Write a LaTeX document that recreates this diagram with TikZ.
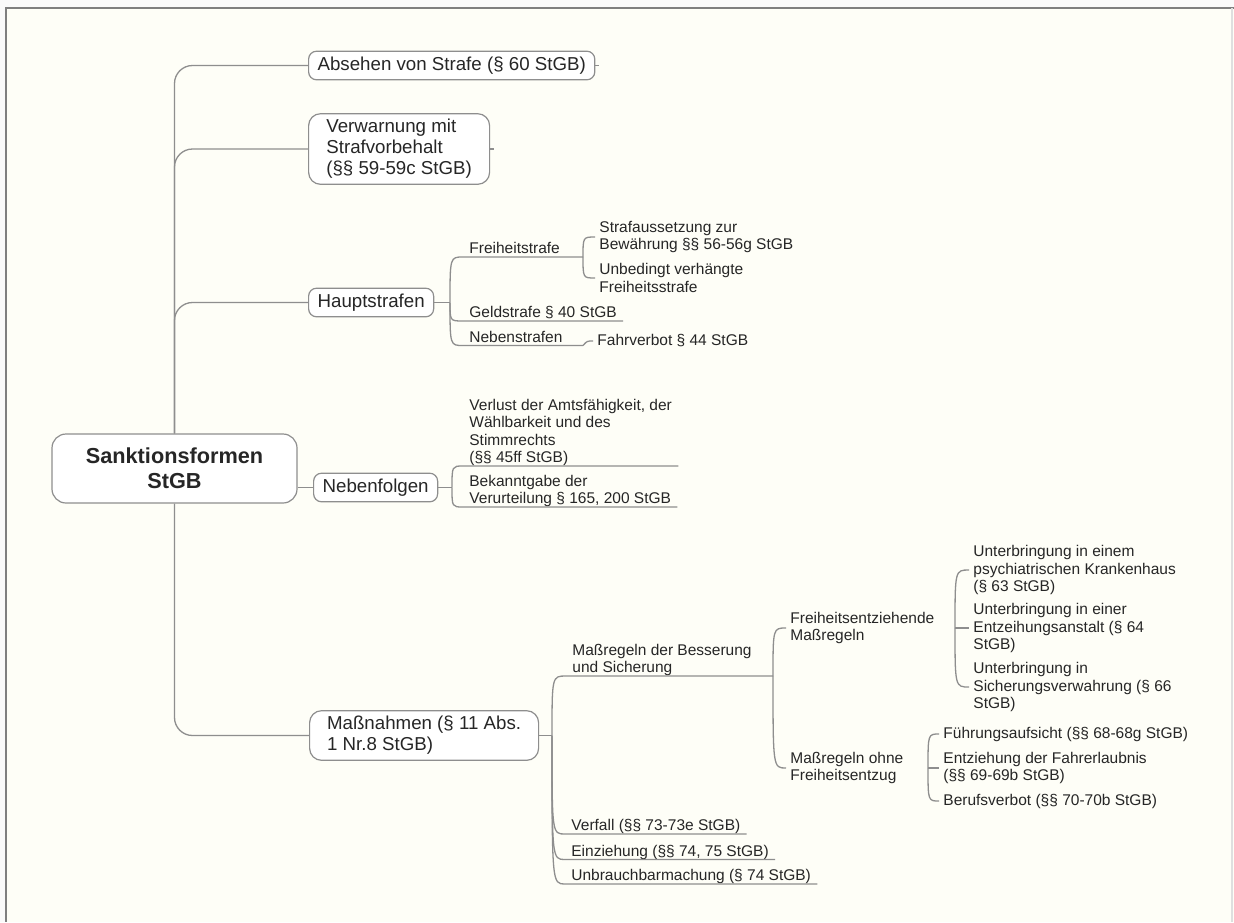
\documentclass[tikz,border=0pt]{standalone}
\usepackage{fontspec}
\setmainfont{Liberation Sans}
\definecolor{paper}{HTML}{FEFEF7}
\definecolor{framegray}{HTML}{7F7F7F}
\definecolor{linegray}{HTML}{8E8E8E}
\definecolor{ink}{HTML}{262626}
\newcommand{\rootfont}{\fontsize{10.85}{12.5}\selectfont\bfseries}
\newcommand{\topicfont}{\fontsize{9.35}{10.5}\selectfont}
\newcommand{\subtopicfont}{\fontsize{7.75}{8.75}\selectfont}
\begin{document}
\begin{tikzpicture}[x=0.5pt,y=-0.5pt,line join=round,
    conn/.style={draw=linegray,line width=0.65pt},
    rootbox/.style={draw=linegray,fill=white,line width=0.6pt,rounded corners=7pt,
      font=\rootfont,text=ink,align=center,minimum width=122.5pt,minimum height=34.5pt},
    topic/.style={draw=linegray,fill=white,line width=0.6pt,rounded corners=4pt,
      font=\topicfont,text=ink,align=left,anchor=west,inner xsep=4.5pt,inner ysep=2.8pt},
    sub/.style={font=\subtopicfont,text=ink,align=left,anchor=south west,
      inner xsep=3pt,inner ysep=1.5pt,text depth=0pt},
    leaf/.style={font=\subtopicfont,text=ink,align=left,anchor=west,
      inner xsep=2pt,inner ysep=0pt}]
  \useasboundingbox (0,0) rectangle (1234,922);
  % page and frame
  \fill [gray!4] (0,0) rectangle (1234,922);
  \fill [paper] (6,8) rectangle (1234,922);
  \draw [framegray,line width=1pt] (5,8) -- (1234,8);
  \draw [framegray,line width=1pt] (6,8) -- (6,922);
  \draw [gray!25,line width=0.6pt] (1232,8) -- (1232,922);

  % central topic and main topics
  \node [rootbox] (root) at (174.5,468.5) {Sanktionsformen\\StGB};
  \node [topic] (absehen) at (308,65.5) {Absehen von Strafe (§ 60 StGB)};
  \node [topic,rounded corners=6pt,minimum width=90.5pt] (verwarn) at (308,149) {Verwarnung mit\\Strafvorbehalt\\(§§ 59-59c StGB)};
  \node [topic] (haupt) at (308,302.5) {Hauptstrafen};
  \node [topic] (nebenf) at (313,487.5) {Nebenfolgen};
  \node [topic,rounded corners=6pt,minimum width=114.5pt] (massn) at (309,735.5) {Maßnahmen (§ 11 Abs.\\1 Nr.8 StGB)};

  \draw [conn,rounded corners=9pt] (root.north) |- (absehen.west);
  \draw [conn,rounded corners=9pt] (root.north) |- (verwarn.west);
  \draw [conn,rounded corners=9pt] (root.north) |- (haupt.west);
  \draw [conn] (root.east |- nebenf.west) -- (nebenf.west);
  \draw [conn,rounded corners=9pt] (root.south) |- (massn.west);
  \draw [conn] (absehen.east) -- ++(4,0);
  \draw [conn] (verwarn.east) -- ++(4,0);

  % Hauptstrafen
  \node [sub] (freiheit) at (463,257) {Freiheitstrafe};
  \node [sub] (geld) at (463,321) {Geldstrafe § 40 StGB};
  \node [sub] (neben) at (463,345.5) {Nebenstrafen};
  \node [leaf] (straf1) at (595,237) {Strafaussetzung zur\\Bewährung §§ 56-56g StGB};
  \node [leaf] (straf2) at (595,278) {Unbedingt verhängte\\Freiheitsstrafe};
  \node [leaf] (fahr) at (593,341) {Fahrverbot § 44 StGB};
  \coordinate (h-j) at (450,302.5);
  \coordinate (fs-j) at (583,257);
  \coordinate (nb-j) at (583,345.5);

  \draw [conn] (haupt.east) -- (h-j);
  \draw [conn] (h-j) .. controls (h-j |- freiheit.south west) .. (freiheit.south west) -- (fs-j);
  \draw [conn] (h-j) .. controls (h-j |- geld.south west) .. (geld.south west) -- (geld.south east);
  \draw [conn] (h-j) .. controls (h-j |- neben.south west) .. (neben.south west) -- (nb-j);
  \draw [conn] (fs-j) .. controls (fs-j |- straf1.west) .. (straf1.west);
  \draw [conn] (fs-j) .. controls (fs-j |- straf2.west) .. (straf2.west);
  \draw [conn] (nb-j) .. controls (587,341) .. (fahr.west);

  % Nebenfolgen
  \node [sub] (verlust) at (463,466) {Verlust der Amtsfähigkeit, der\\Wählbarkeit und des\\Stimmrechts\\(§§ 45ff StGB)};
  \node [sub] (bekannt) at (463,507) {Bekanntgabe der\\Verurteilung § 165, 200 StGB};
  \coordinate (nf-j) at (452,487.5);

  \draw [conn] (nebenf.east) -- (nf-j);
  \draw [conn] (nf-j) .. controls (nf-j |- verlust.south west) .. (verlust.south west) -- (verlust.south east);
  \draw [conn] (nf-j) .. controls (nf-j |- bekannt.south west) .. (bekannt.south west) -- (bekannt.south east);

  % Massnahmen
  \node [sub] (massreg) at (566,676) {Maßregeln der Besserung\\und Sicherung};
  \node [sub] (verfall) at (565,834) {Verfall (§§ 73-73e StGB)};
  \node [sub] (einzieh) at (565,859.5) {Einziehung (§§ 74, 75 StGB)};
  \node [sub] (unbrauch) at (565,884) {Unbrauchbarmachung (§ 74 StGB)};
  \coordinate (m-j) at (552,735.5);
  \coordinate (mr-j) at (773,676);

  \draw [conn] (massn.east) -- (m-j);
  \draw [conn] (m-j) .. controls (m-j |- massreg.south west) .. (massreg.south west) -- (mr-j);
  \draw [conn] (m-j) .. controls (m-j |- verfall.south west) .. (verfall.south west) -- (verfall.south east);
  \draw [conn] (m-j) .. controls (m-j |- einzieh.south west) .. (einzieh.south west) -- (einzieh.south east);
  \draw [conn] (m-j) .. controls (m-j |- unbrauch.south west) .. (unbrauch.south west) -- (unbrauch.south east);

  \node [leaf] (fe) at (786,628) {Freiheitsentziehende\\Maßregeln};
  \node [leaf] (mo) at (786,768) {Maßregeln ohne\\Freiheitsentzug};
  \draw [conn] (mr-j) .. controls (mr-j |- fe.west) .. (fe.west);
  \draw [conn] (mr-j) .. controls (mr-j |- mo.west) .. (mo.west);

  % freiheitsentziehende Massregeln
  \node [leaf] (u1) at (969,570) {Unterbringung in einem\\psychiatrischen Krankenhaus\\(§ 63 StGB)};
  \node [leaf] (u2) at (969,628) {Unterbringung in einer\\Entzeihungsanstalt (§ 64\\StGB)};
  \node [leaf] (u3) at (969,687) {Unterbringung in\\Sicherungsverwahrung (§ 66\\StGB)};
  \coordinate (fe-j) at (955,628);
  \draw [conn] (fe-j) -- (u2.west);
  \draw [conn] (fe-j) .. controls (fe-j |- u1.west) .. (u1.west);
  \draw [conn] (fe-j) .. controls (fe-j |- u3.west) .. (u3.west);

  % Massregeln ohne Freiheitsentzug
  \node [leaf] (fa) at (939,734) {Führungsaufsicht (§§ 68-68g StGB)};
  \node [leaf] (ent) at (939,768) {Entziehung der Fahrerlaubnis\\(§§ 69-69b StGB)};
  \node [leaf] (beruf) at (939,801) {Berufsverbot (§§ 70-70b StGB)};
  \coordinate (mo-j) at (928,768);
  \draw [conn] (mo-j) -- (ent.west);
  \draw [conn] (mo-j) .. controls (mo-j |- fa.west) .. (fa.west);
  \draw [conn] (mo-j) .. controls (mo-j |- beruf.west) .. (beruf.west);
\end{tikzpicture}
\end{document}
